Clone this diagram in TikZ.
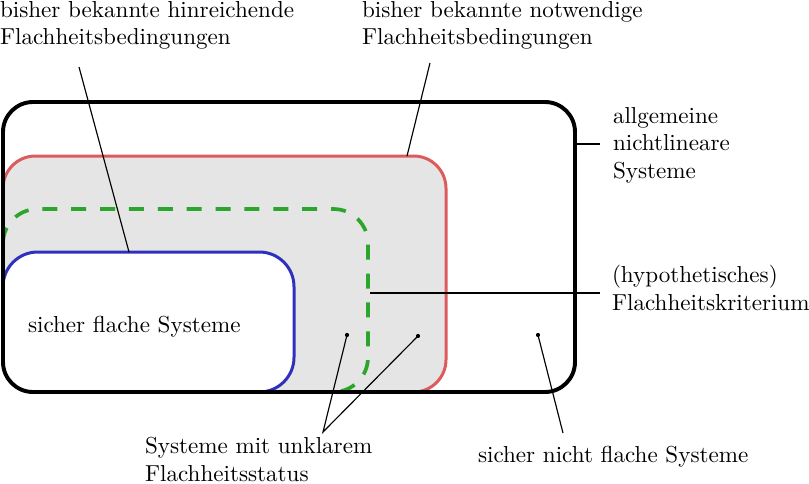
\documentclass[tikz,border=0pt]{standalone}
\usepackage{tikz}
\usetikzlibrary{calc}
\definecolor{flatred}{RGB}{220,92,94}
\definecolor{flatgreen}{RGB}{44,165,44}
\definecolor{flatblue}{RGB}{48,48,190}

\begin{document}
\begin{tikzpicture}[x=0.433pt,y=-0.433pt,
    lbl/.style={align=left,inner sep=0pt,outer sep=0pt},
    pin/.style={line width=0.5pt},
    dot/.style={fill=black}]
  \useasboundingbox (0,0) rectangle (809,483);
  % sets: notwendig (red), Kriterium (green), hinreichend (blue), inside alle (black)
  \begin{scope}
    \clip[rounded corners=13pt] (3,102) rectangle (575,392);
    \draw[flatred,fill=gray!20,line width=1.3pt,rounded corners=14pt] (3,430) |- (446,156) |- (-20,392);
    \draw[flatgreen,line width=1.6pt,dash pattern=on 6.5pt off 6pt,rounded corners=15pt] (3,300) |- (368,209) |- (300,392);
    \draw[flatblue,fill=white,line width=1.3pt,rounded corners=15pt] (3,430) |- (294,252) |- (-20,392);
  \end{scope}
  \draw[line width=1.7pt,rounded corners=13pt] (3,102) rectangle (575,392);
  % labels
  \node[lbl,anchor=north west] (hinr) at (0,1) {bisher bekannte hinreichende\\Flachheitsbedingungen};
  \node[lbl,anchor=north west] (notw) at (362,1) {bisher bekannte notwendige\\Flachheitsbedingungen};
  \node[lbl,anchor=north west] (allg) at (613,107) {allgemeine\\nichtlineare\\Systeme};
  \node[lbl,anchor=north west] (krit) at (612,265) {(hypothetisches)\\Flachheitskriterium};
  \node[lbl,anchor=base west] (sfl) at (28,332) {sicher flache Systeme};
  \node[lbl,anchor=north west] (unkl) at (145,437) {Systeme mit unklarem\\Flachheitsstatus};
  \node[lbl,anchor=base west] (snf) at (478,462) {sicher nicht flache Systeme};
  % connector ends
  \coordinate (hinrA) at (79,67);   \coordinate (hinrB) at (129,252);
  \coordinate (notwA) at (430,63);  \coordinate (notwB) at (407,156);
  \coordinate (allgA) at (576,144); \coordinate (allgB) at (600,144);
  \coordinate (kritA) at (370,293); \coordinate (kritB) at (600,293);
  \coordinate (p1) at (347,335);
  \coordinate (p2) at (418,336);
  \coordinate (p3) at (538,335);
  \coordinate (unklTip) at (323,432);
  \coordinate (snfTip) at (563,433);
  \draw[pin] (hinrA) -- (hinrB);
  \draw[pin] (notwA) -- (notwB);
  \draw[pin] (allgA) -- (allgB);
  \draw[pin] (kritA) -- (kritB);
  \draw[pin] (p1) -- (unklTip) -- (p2);
  \draw[pin] (p3) -- (snfTip);
  \foreach \p in {p1,p2,p3}{\fill[dot] (\p) circle (0.9pt);}
\end{tikzpicture}
\end{document}
